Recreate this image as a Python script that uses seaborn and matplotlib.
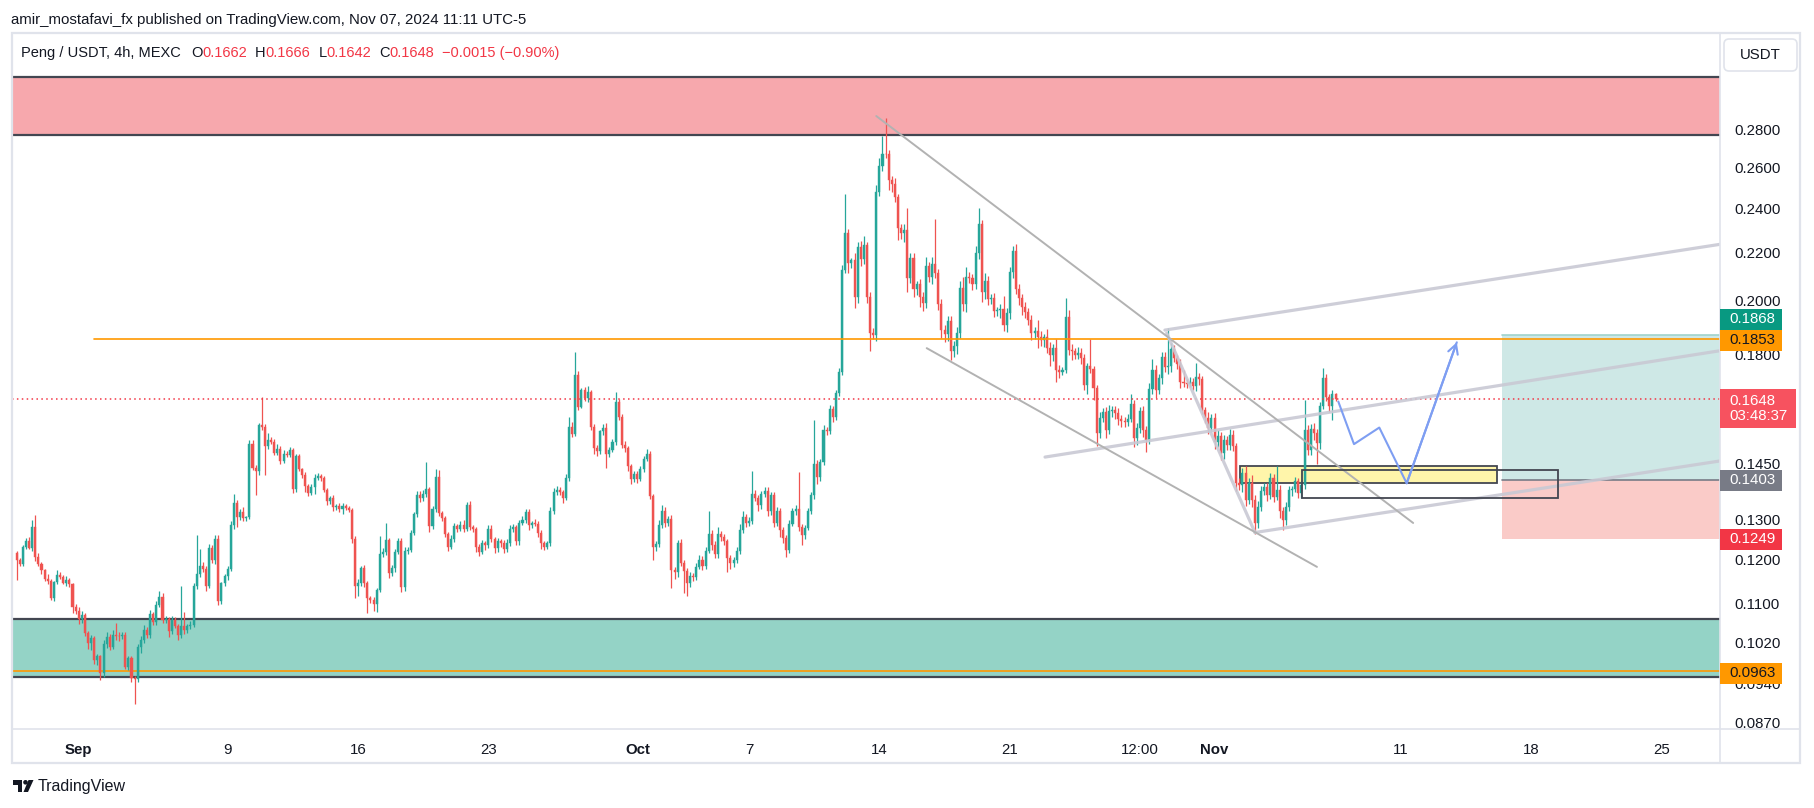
import numpy as np
import pandas as pd
import matplotlib
matplotlib.use("Agg")
import matplotlib.pyplot as plt
import matplotlib.dates as mdates
import matplotlib.ticker as mticker
from matplotlib.patches import Rectangle, FancyBboxPatch, Polygon, Circle
from matplotlib.lines import Line2D
from matplotlib.transforms import Affine2D
import seaborn as sns

### 4h candles, prices in 1e-4 USDT (open = previous close)
first_open = 1215
closes = [
    1199, 1190, 1230, 1245, 1228, 1281,  1207, 1190, 1175, 1155, 1150, 1112,
    1148, 1165, 1160, 1147, 1152, 1143,  1093, 1085, 1067, 1075, 1038, 1019,
    1028, 985, 992, 959, 1017, 1031,     1011, 1035, 1033, 1032, 1035, 971,
    989, 950, 948, 1011, 1025, 1045,     1034, 1078, 1062, 1097, 1115, 1065,
    1068, 1042, 1065, 1052, 1035, 1053,  1044, 1052, 1055, 1139, 1167, 1185,
    1177, 1139, 1229, 1199, 1251, 1106,  1145, 1161, 1179, 1286, 1341, 1304,
    1317, 1302, 1304, 1508, 1439, 1428,  1566, 1559, 1500, 1519, 1514, 1480,
    1492, 1458, 1478, 1474, 1489, 1380,  1473, 1434, 1419, 1387, 1368, 1385,
    1411, 1415, 1410, 1376, 1346, 1356,  1330, 1334, 1326, 1335, 1329, 1324,
    1251, 1140, 1146, 1180, 1145, 1112,  1109, 1099, 1131, 1214, 1218, 1247,
    1168, 1180, 1219, 1245, 1137, 1221,  1224, 1265, 1312, 1363, 1356, 1365,
    1380, 1282, 1325, 1412, 1315, 1302,  1263, 1231, 1251, 1282, 1276, 1285,
    1276, 1337, 1279, 1275, 1231, 1219,  1239, 1234, 1276, 1249, 1227, 1245,
    1240, 1225, 1239, 1276, 1279, 1244,  1291, 1297, 1318, 1285, 1290, 1288,
    1265, 1239, 1231, 1239, 1321, 1370,  1378, 1372, 1356, 1409, 1560, 1538,
    1728, 1623, 1677, 1650, 1670, 1560,  1495, 1487, 1545, 1557, 1478, 1491,
    1513, 1636, 1591, 1503, 1495, 1443,  1406, 1420, 1406, 1434, 1464, 1478,
    1360, 1231, 1238, 1286, 1322, 1289,  1300, 1176, 1170, 1239, 1193, 1174,
    1146, 1163, 1160, 1183, 1200, 1185,  1221, 1263, 1235, 1213, 1261, 1255,
    1245, 1203, 1191, 1198, 1221, 1272,  1306, 1290, 1295, 1366, 1356, 1337,
    1366, 1374, 1321, 1362, 1291, 1321,  1272, 1253, 1223, 1288, 1321, 1326,
    1280, 1259, 1278, 1321, 1362, 1449,  1412, 1454, 1550, 1545, 1615, 1589,
    1667, 1738, 2126, 2283, 2152, 2166,  2015, 2224, 2170, 2230, 2015, 1875,
    1870, 2480, 2607, 2673, 2670, 2538,  2518, 2452, 2306, 2285, 2300, 2090,
    2175, 2046, 2065, 2015, 1990, 2140,  2096, 2150, 2110, 1988, 1887, 1871,
    1920, 1811, 1830, 1877, 2050, 1985,  2095, 2090, 2068, 2198, 2325, 2036,
    2080, 2006, 2012, 1958, 1962, 1968,  1905, 1950, 2118, 2205, 2048, 2012,
    1973, 1955, 1925, 1878, 1885, 1862,  1850, 1860, 1823, 1795, 1823, 1744,
    1738, 1745, 1938, 1815, 1810, 1797,  1805, 1785, 1692, 1757, 1747, 1682,
    1540, 1587, 1605, 1550, 1608, 1612,  1601, 1585, 1577, 1573, 1585, 1632,
    1524, 1555, 1608, 1550, 1520, 1680,  1744, 1676, 1717, 1788, 1754, 1757,
    1818, 1785, 1764, 1705, 1700, 1698,  1705, 1690, 1720, 1712, 1612, 1588,
    1556, 1587, 1514, 1530, 1480, 1520,  1505, 1535, 1500, 1395, 1390, 1423,
    1350, 1395, 1350, 1290, 1332, 1373,  1385, 1364, 1409, 1359, 1377, 1320,
    1298, 1330, 1377, 1380, 1400, 1368,  1390, 1550, 1490, 1552, 1540, 1510,
    1624, 1717, 1654, 1625, 1662, 1648,
]
upper_wick = [
    6, 4, 5, 8, 10, 17,   30, 8, 5, 4, 12, 6,   3, 10, 6, 5, 11, 6,   4, 6, 8, 10, 6, 4,
    6, 5, 4, 3, 7, 9,     6, 10, 24, 8, 6, 5,   4, 3, 4, 6, 8, 10,    6, 8, 4, 8, 12, 8,
    5, 4, 8, 6, 5, 87,    30, 6, 8, 7, 93, 40,  10, 8, 8, 6, 9, 8,    4, 6, 5, 8, 25, 10,
    8, 14, 5, 10, 12, 6,  6, 88, 8, 20, 10, 8,  14, 10, 12, 8, 10, 6, 6, 6, 5, 8, 5, 7,
    10, 8, 6, 5, 6, 5,    6, 5, 8, 6, 5, 6,     5, 6, 8, 6, 8, 6,     6, 5, 4, 43, 10, 44,
    6, 8, 6, 8, 8, 10,    6, 8, 6, 10, 10, 12,  76, 6, 8, 22, 20, 6,  6, 5, 8, 8, 6, 10,
    12, 8, 10, 6, 5, 6,   8, 6, 8, 10, 6, 8,    6, 8, 12, 10, 8, 6,   6, 10, 8, 8, 6, 10,
    8, 6, 6, 6, 10, 12,   10, 8, 6, 12, 31, 14, 80, 12, 8, 10, 20, 8, 8, 10, 6, 12, 15, 8,
    8, 34, 10, 8, 12, 6,  6, 10, 8, 10, 8, 14,  10, 6, 8, 12, 14, 10, 8, 10, 6, 8, 10, 6,
    6, 8, 6, 10, 10, 8,   10, 58, 8, 10, 20, 8, 8, 6, 8, 8, 10, 16,   14, 8, 10, 62, 10, 8,
    8, 12, 10, 8, 8, 10,  8, 8, 6, 10, 8, 10,   99, 8, 6, 8, 10, 132, 12, 10, 15, 10, 12, 10,
    10, 12, 20, 183, 20, 10,  30, 20, 26, 40, 16, 20,  18, 30, 40, 92, 192, 20,
    20, 30, 14, 20, 25, 100,  20, 20, 14, 20, 18, 40,  20, 30, 200, 20, 20, 18,
    20, 20, 16, 20, 30, 45,   40, 20, 18, 30, 76, 20,  30, 20, 16, 20, 14, 20,
    50, 20, 20, 22, 30, 20,   16, 20, 15, 20, 12, 40,  20, 14, 30, 20, 14, 32,
    16, 10, 72, 24, 20, 12,   20, 16, 14, 12, 96, 10,  10, 20, 14, 16, 20, 12,
    12, 16, 10, 12, 14, 30,   12, 16, 14, 18, 12, 20,  40, 16, 14, 20, 20, 136,
    20, 14, 12, 20, 40, 12,   14, 12, 48, 14, 12, 10,  16, 12, 14, 20, 12, 14,
    12, 18, 14, 10, 16, 14,   20, 14, 24, 12, 16, 14,  12, 10, 14, 12, 65, 12,
    10, 14, 10, 8, 12, 10,    10, 94, 14, 16, 20, 12,  14, 33, 14, 10, 16, 4,
]
lower_wick = [
    46, 6, 4, 5, 3, 8,    10, 6, 8, 5, 7, 3,    6, 4, 5, 4, 8, 5,     12, 6, 10, 8, 6, 12,
    14, 8, 10, 12, 6, 9,  7, 5, 9, 10, 6, 4,    5, 8, 45, 6, 12, 6,   5, 6, 8, 7, 5, 6,
    6, 12, 5, 4, 10, 7,   8, 6, 5, 4, 6, 8,     6, 10, 5, 8, 10, 8,   6, 5, 8, 6, 12, 23,
    6, 8, 6, 4, 8, 65,    10, 8, 81, 6, 8, 6,   6, 8, 5, 6, 5, 12,    8, 6, 10, 15, 8, 6,
    18, 6, 8, 6, 10, 6,   10, 6, 8, 14, 6, 5,   10, 28, 22, 6, 8, 32, 8, 14, 16, 6, 8, 6,
    10, 6, 8, 6, 11, 8,   8, 6, 6, 8, 12, 8,    6, 14, 6, 8, 6, 8,    8, 10, 6, 8, 10, 6,
    8, 6, 6, 8, 12, 10,   6, 10, 6, 6, 12, 8,   10, 8, 6, 6, 8, 10,   8, 6, 6, 12, 8, 6,
    10, 14, 8, 6, 6, 8,   6, 8, 14, 6, 8, 10,   8, 10, 6, 8, 12, 10,  16, 14, 8, 10, 41, 8,
    6, 8, 12, 8, 10, 15,  12, 8, 10, 6, 8, 6,   8, 33, 10, 8, 8, 10,  6, 42, 16, 10, 8, 51,
    30, 8, 10, 8, 6, 10,  8, 6, 12, 10, 8, 10,  10, 31, 12, 8, 6, 8,  8, 10, 8, 8, 10, 16,
    10, 8, 14, 10, 12, 8, 16, 12, 16, 8, 6, 10, 10, 24, 8, 6, 8, 10,  18, 12, 8, 10, 8, 14,
    8, 10, 12, 14, 40, 20,    45, 24, 30, 20, 25, 66,  16, 24, 20, 25, 20, 50,
    40, 22, 50, 26, 40, 54,   20, 30, 24, 40, 30, 20,  22, 30, 20, 24, 30, 26,
    24, 33, 20, 30, 20, 25,   30, 20, 26, 20, 25, 40,  30, 24, 20, 22, 18, 30,
    20, 24, 20, 25, 20, 30,   30, 22, 20, 26, 24, 40,  20, 25, 20, 38, 20, 40,
    20, 12, 10, 20, 30, 16,   14, 20, 16, 30, 14, 38,  40, 16, 12, 26, 14, 18,
    16, 20, 18, 14, 12, 10,   26, 20, 14, 22, 36, 14,  16, 24, 14, 20, 16, 24,
    18, 14, 16, 20, 14, 14,   12, 14, 16, 20, 14, 18,  20, 14, 22, 16, 20, 18,
    14, 16, 12, 22, 14, 20,   16, 10, 18, 27, 12, 10,  10, 16, 12, 14, 10, 18,
    27, 12, 10, 16, 10, 14,   12, 10, 16, 14, 20, 62,  18, 10, 12, 20, 44, 6,
]
last_candle = "2024-11-07 12:00"

### drawings
resistance_zone = (0.2772, 0.3108)
support_zone = (0.0952, 0.1067)
support_line = 0.0963
key_level = 0.1853
key_level_start = "2024-09-01 20:00"
last_price = 0.1648

# trend lines: (time, price) pairs
dark_lines = [
    [("2024-10-13 20:00", 0.2878), ("2024-11-11 16:00", 0.1290)],
    [("2024-10-16 13:00", 0.1821), ("2024-11-06 12:00", 0.1183)],
]
light_lines = [
    [("2024-10-29 08:00", 0.1887), ("2024-11-28 04:00", 0.2235)],
    [("2024-10-22 21:30", 0.1469), ("2024-11-28 04:00", 0.1812)],
    [("2024-11-03 04:20", 0.1266), ("2024-11-28 04:00", 0.1458)],
    [("2024-10-29 10:20", 0.1876), ("2024-11-03 04:20", 0.1265)],
]
yellow_box = ("2024-11-02 09:00", "2024-11-16 03:30", 0.1397, 0.1442)
black_box = ("2024-11-05 17:00", "2024-11-19 11:00", 0.1355, 0.1431)

pos_start = "2024-11-16 10:30"
pos_target, pos_entry, pos_stop = 0.1868, 0.1403, 0.1249

proj_times = ["2024-11-07 15:30", "2024-11-08 11:45", "2024-11-09 20:20",
              "2024-11-11 07:40", "2024-11-14 00:15"]
proj_prices = [0.1639, 0.1507, 0.1557, 0.1395, 0.1842]

price_ticks = [0.2800, 0.2600, 0.2400, 0.2200, 0.2000, 0.1800, 0.1450,
               0.1300, 0.1200, 0.1100, 0.1020, 0.0940, 0.0870]
time_ticks = ["2024-09-01", "2024-09-09", "2024-09-16", "2024-09-23", "2024-10-01",
              "2024-10-07", "2024-10-14", "2024-10-21", "2024-10-28", "2024-11-01",
              "2024-11-11", "2024-11-18", "2024-11-25"]
time_labels = ["Sep", "9", "16", "23", "Oct", "7", "14", "21", "12:00", "Nov",
               "11", "18", "25"]
month_labels = ["Sep", "Oct", "Nov"]

x_range = ("2024-08-28 10:00", "2024-11-28 03:30")
y_range = (0.08593, 0.33900)

GREEN = "#26A69A"
RED = "#EF5350"
DARK = "#131722"
TVRED = "#F23645"

W, H = 1814, 808
sns.set_theme(style="white")
plt.rcParams["font.family"] = ["Liberation Sans", "DejaVu Sans"]

fig = plt.figure(figsize=(W / 100, H / 100), dpi=100, facecolor="white")
# pixel transform, y measured from the top
pix = Affine2D().scale(1, -1).translate(0, H)

ax = fig.add_axes([12 / W, (H - 729) / H, (1720 - 12) / W, (729 - 33) / H])
ax.set_facecolor("white")
ax.set_yscale("log")
tnum = lambda s: mdates.date2num(pd.Timestamp(s))
ax.set_xlim(tnum(x_range[0]), tnum(x_range[1]))
ax.set_ylim(*y_range)
for s in ax.spines.values():
    s.set_visible(False)

### zones
ax.axhspan(*resistance_zone, color="#F7A8AD", lw=0, zorder=1)
ax.axhspan(*support_zone, color="#94D3C6", lw=0, zorder=1)
for v in list(resistance_zone) + list(support_zone):
    ax.axhline(v, color="#434651", lw=1.6, zorder=1.2)
ax.axhline(support_line, color="#FF9800", lw=1.2, zorder=1.3)

### long position box
xs = tnum(pos_start)
ax.add_patch(Rectangle((xs, pos_entry), 30, pos_target - pos_entry,
                       facecolor="#CEE8E6", lw=0, zorder=1))
ax.add_patch(Rectangle((xs, pos_stop), 30, pos_entry - pos_stop,
                       facecolor="#FACBC8", lw=0, zorder=1))
ax.plot([xs, xs + 30], [pos_target, pos_target], color="#9FD3CC", lw=1.2, zorder=1.1)
ax.plot([xs, xs + 30], [pos_entry, pos_entry], color="#787B86", lw=1.2, zorder=1.1)

### yellow order block and outline box
x0, x1 = tnum(yellow_box[0]), tnum(yellow_box[1])
ax.add_patch(Rectangle((x0, yellow_box[2]), x1 - x0, yellow_box[3] - yellow_box[2],
                       facecolor="#FFF5AA", edgecolor="#434651", lw=1.3, zorder=2))
x0, x1 = tnum(black_box[0]), tnum(black_box[1])
ax.add_patch(Rectangle((x0, black_box[2]), x1 - x0, black_box[3] - black_box[2],
                       facecolor="none", edgecolor="#434651", lw=1.3, zorder=5))

### candles
c_int = np.array(closes)
o_int = np.concatenate([[first_open], c_int[:-1]])
hi = (np.maximum(o_int, c_int) + np.array(upper_wick)) / 1e4
lo = (np.minimum(o_int, c_int) - np.array(lower_wick)) / 1e4
o = o_int / 1e4
c = c_int / 1e4
times = pd.date_range(end=last_candle, periods=len(closes), freq="4h")
xt = mdates.date2num(times)
cols = np.where(c >= o, GREEN, RED)
ax.vlines(xt, lo, hi, colors=cols, lw=0.9, zorder=3)
ax.bar(xt, c - o, bottom=o, width=0.11, color=cols, edgecolor=cols,
       linewidth=0.3, zorder=3.5)

### horizontal levels
ax.plot([tnum(key_level_start), tnum(x_range[1])], [key_level, key_level],
        color="#FF9800", lw=1.2, zorder=4)
ax.axhline(last_price, color=TVRED, lw=1.1, ls=(0, (1, 2.2)), zorder=4)

### trend lines
for ln in dark_lines:
    ax.plot([tnum(p[0]) for p in ln], [p[1] for p in ln], color="#B2B2B2",
            lw=1.4, zorder=4.5, solid_capstyle="round")
for ln in light_lines:
    ax.plot([tnum(p[0]) for p in ln], [p[1] for p in ln], color="#C9C9D4",
            lw=2.3, alpha=0.9, zorder=4.4, solid_capstyle="round")

### projected path
proj = pd.DataFrame({"t": [tnum(t) for t in proj_times], "p": proj_prices})
sns.lineplot(data=proj, x="t", y="p", ax=ax, color="#7E9EF2", lw=1.5,
             sort=False, zorder=6)
ax.annotate("", xy=(proj.t.iloc[-1], proj.p.iloc[-1]),
            xytext=(proj.t.iloc[-2], proj.p.iloc[-2]),
            arrowprops=dict(arrowstyle="->,head_length=0.55,head_width=0.3",
                            color="#7E9EF2", lw=1.5, shrinkA=0, shrinkB=0),
            zorder=6)
ax.set_xlabel("")
ax.set_ylabel("")

### axes ticks
ax.yaxis.tick_right()
ax.set_yticks(price_ticks)
ax.set_yticklabels([f"{v:.4f}" for v in price_ticks])
ax.yaxis.set_minor_locator(mticker.NullLocator())
ax.tick_params(axis="y", length=0, pad=10, labelsize=10.8, labelcolor=DARK)
ax.set_xticks([tnum(t) for t in time_ticks])
ax.set_xticklabels(time_labels)
ax.tick_params(axis="x", length=0, pad=10, labelsize=10.8, labelcolor=DARK)
for lbl in ax.get_xticklabels():
    if lbl.get_text() in month_labels:
        lbl.set_fontweight("bold")
ax.grid(False)

### frame
fig.add_artist(Rectangle((12, 33), 1800 - 12, 763 - 33, transform=pix,
                         facecolor="none", edgecolor="#E0E3EB", lw=1.6))
fig.add_artist(Line2D([1720, 1720], [33, 763], transform=pix, color="#E0E3EB", lw=1.2))
fig.add_artist(Line2D([12, 1800], [729, 729], transform=pix, color="#E0E3EB", lw=1.2))
fig.add_artist(FancyBboxPatch((1724, 39), 73, 32, transform=pix,
                              boxstyle="round,pad=0,rounding_size=5",
                              facecolor="white", edgecolor="#E0E3EB", lw=1.2))
fig.text(1760.5, 55, "USDT", transform=pix, ha="center", va="center",
         fontsize=10.8, color=DARK)


def ypix(p):
    return H - ax.transData.transform((ax.get_xlim()[0], p))[1]


def badge(p, txt, fc, tc, shift=0, h=21, w=62):
    yc = ypix(p) + shift
    fig.add_artist(Rectangle((1720, yc - h / 2), w, h, transform=pix,
                             facecolor=fc, edgecolor="none", zorder=5))
    fig.text(1729, yc, txt, transform=pix, ha="left", va="center",
             fontsize=10.8, color=tc, zorder=6, linespacing=1.05)


badge(pos_target, f"{pos_target:.4f}", "#089981", "white", shift=-16)
badge(key_level, f"{key_level:.4f}", "#FF9800", DARK, shift=1)
badge(last_price, f"{last_price:.4f}\n03:48:37", "#F7525F", "white", shift=10, h=39, w=76)
badge(pos_entry, f"{pos_entry:.4f}", "#787B86", "white")
badge(pos_stop, f"{pos_stop:.4f}", TVRED, "white")
badge(support_line, f"{support_line:.4f}", "#FF9800", DARK, shift=2)

### header and legend
fig.text(11, 20, "amir_mostafavi_fx published on TradingView.com, Nov 07, 2024 11:11 UTC-5",
         transform=pix, ha="left", va="center", fontsize=10.8, color=DARK)

renderer = fig.canvas.get_renderer()
pieces = [("Peng / USDT, 4h, MEXC", DARK, 10), ("O", DARK, 0), ("0.1662", TVRED, 8),
          ("H", DARK, 0), ("0.1666", TVRED, 8), ("L", DARK, 0), ("0.1642", TVRED, 8),
          ("C", DARK, 0), ("0.1648", TVRED, 8), ("\u22120.0015 (\u22120.90%)", TVRED, 0)]
xp = 21
for s, col, gap in pieces:
    t = fig.text(xp, 53, s, transform=pix, ha="left", va="center",
                 fontsize=10.5, color=col)
    xp += t.get_window_extent(renderer).width + gap

### TradingView logo
for patch in [Rectangle((13, 780), 9, 4.5), Rectangle((17.5, 780), 4.5, 12),
              Circle((25.5, 782.3), 2.3), Polygon([(28.5, 780), (33.5, 780), (28, 792), (23.5, 792)])]:
    patch.set_transform(pix)
    patch.set_facecolor(DARK)
    patch.set_edgecolor("none")
    fig.add_artist(patch)
fig.text(38, 786, "TradingView", transform=pix, ha="left", va="center",
         fontsize=11.5, color=DARK)

fig.savefig("out.png", dpi=100, facecolor="white")
